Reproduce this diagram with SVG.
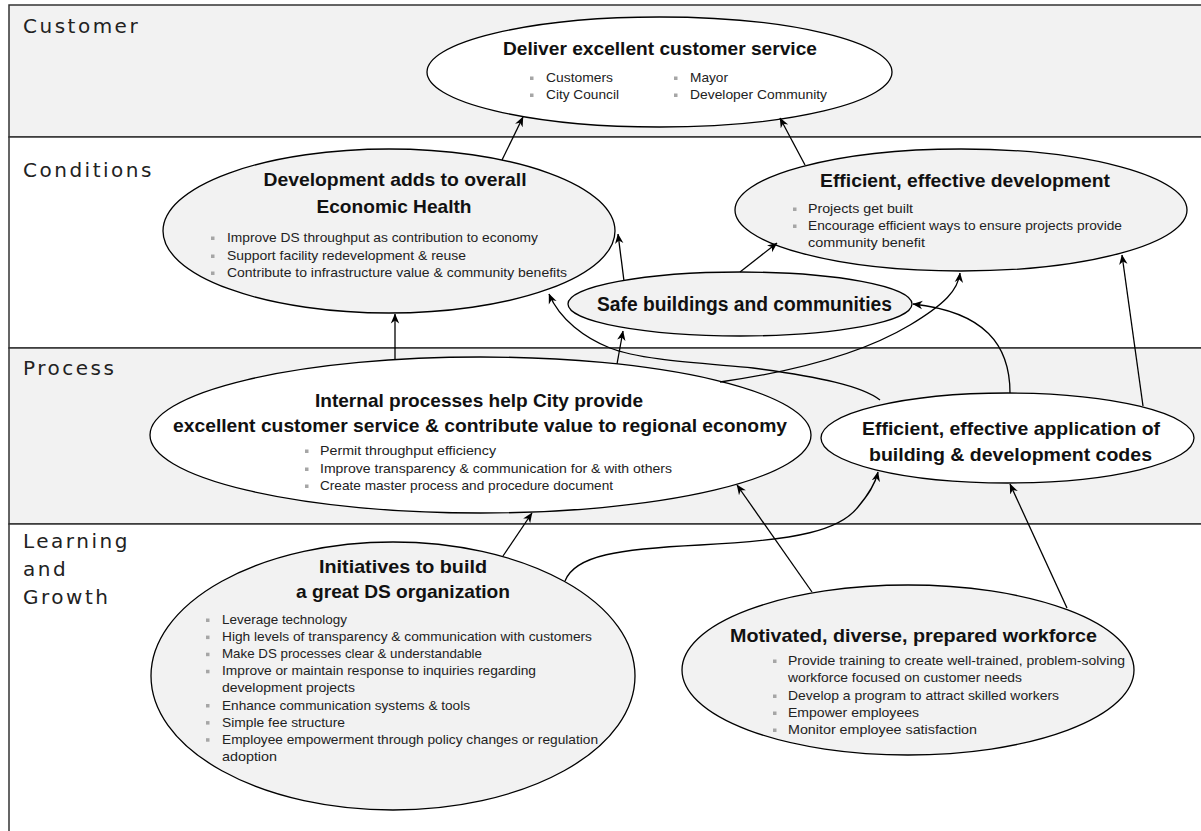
<svg xmlns="http://www.w3.org/2000/svg" width="1201" height="831" viewBox="0 0 1201 831">
<defs>
<style>
.band{stroke:#333;stroke-width:1.5}
.node{stroke:#000;stroke-width:1.3}
.g{fill:#f2f2f2}
.w{fill:#fff}
.t{font-family:"Liberation Sans",Arial,sans-serif;font-weight:bold;font-size:19px;fill:#111;text-anchor:middle}
.b{font-family:"Liberation Sans",Arial,sans-serif;font-size:13px;fill:#222}
.sq{fill:#a6a6a6}
.lbl{font-family:"DejaVu Sans",Verdana,sans-serif;font-size:20px;letter-spacing:2.5px;fill:#222}
.c{fill:none;stroke:#000;stroke-width:1.3;marker-end:url(#ah)}
</style>
<marker id="ah" viewBox="0 0 10 10" refX="9.5" refY="5" markerWidth="10" markerHeight="10" markerUnits="userSpaceOnUse" orient="auto">
<path d="M0,0.8 L10,5 L0,9.2 L3,5 z" fill="#000"/>
</marker>
</defs>

<g id="bands">
<rect class="band g" x="9" y="5" width="1200" height="132"/>
<rect class="band w" x="9" y="137" width="1200" height="211"/>
<rect class="band g" x="9" y="348" width="1200" height="176"/>
<rect class="band w" x="9" y="524" width="1200" height="312"/>
<text class="lbl" x="23" y="33">Customer</text>
<text class="lbl" x="23" y="177">Conditions</text>
<text class="lbl" x="23" y="375">Process</text>
<text class="lbl" x="23" y="548">Learning</text>
<text class="lbl" x="23" y="576">and</text>
<text class="lbl" x="23" y="604">Growth</text>
</g>

<g id="node-deliver">
<ellipse class="node w" cx="659.5" cy="72" rx="232.5" ry="55"/>
<text class="t" x="660" y="55" textLength="314" lengthAdjust="spacingAndGlyphs">Deliver excellent customer service</text>
<rect class="sq" x="530" y="76.5" width="3.5" height="3.5"/>
<text class="b" x="546" y="82" textLength="67" lengthAdjust="spacingAndGlyphs">Customers</text>
<rect class="sq" x="530" y="93.5" width="3.5" height="3.5"/>
<text class="b" x="546" y="99" textLength="73" lengthAdjust="spacingAndGlyphs">City Council</text>
<rect class="sq" x="674" y="76.5" width="3.5" height="3.5"/>
<text class="b" x="690" y="82" textLength="38" lengthAdjust="spacingAndGlyphs">Mayor</text>
<rect class="sq" x="674" y="93.5" width="3.5" height="3.5"/>
<text class="b" x="690" y="99" textLength="137" lengthAdjust="spacingAndGlyphs">Developer Community</text>
</g>

<g id="node-econ">
<ellipse class="node g" cx="389" cy="231" rx="226" ry="82"/>
<text class="t" x="395" y="186" textLength="263" lengthAdjust="spacingAndGlyphs">Development adds to overall</text>
<text class="t" x="394" y="213" textLength="155" lengthAdjust="spacingAndGlyphs">Economic Health</text>
<rect class="sq" x="211" y="236.5" width="3.5" height="3.5"/>
<text class="b" x="227" y="242" textLength="311" lengthAdjust="spacingAndGlyphs">Improve DS throughput as contribution to economy</text>
<rect class="sq" x="211" y="254.5" width="3.5" height="3.5"/>
<text class="b" x="227" y="260" textLength="239" lengthAdjust="spacingAndGlyphs">Support facility redevelopment &amp; reuse</text>
<rect class="sq" x="211" y="271.5" width="3.5" height="3.5"/>
<text class="b" x="227" y="277" textLength="340" lengthAdjust="spacingAndGlyphs">Contribute to infrastructure value &amp; community benefits</text>
</g>

<g id="node-effdev">
<ellipse class="node g" cx="961" cy="210" rx="226" ry="61"/>
<text class="t" x="965" y="187" textLength="290" lengthAdjust="spacingAndGlyphs">Efficient, effective development</text>
<rect class="sq" x="793" y="207.5" width="3.5" height="3.5"/>
<text class="b" x="808" y="213" textLength="105" lengthAdjust="spacingAndGlyphs">Projects get built</text>
<rect class="sq" x="793" y="224.5" width="3.5" height="3.5"/>
<text class="b" x="808" y="230" textLength="314" lengthAdjust="spacingAndGlyphs">Encourage efficient ways to ensure projects provide</text>
<text class="b" x="808" y="247" textLength="117" lengthAdjust="spacingAndGlyphs">community benefit</text>
</g>

<g id="node-safe">
<ellipse class="node g" cx="740" cy="304" rx="172" ry="32"/>
<text class="t" x="744.5" y="311" style="font-size:20px" textLength="295" lengthAdjust="spacingAndGlyphs">Safe buildings and communities</text>
</g>

<g id="node-internal">
<ellipse class="node w" cx="480.5" cy="435" rx="330.5" ry="78"/>
<text class="t" x="479" y="407" textLength="328" lengthAdjust="spacingAndGlyphs">Internal processes help City provide</text>
<text class="t" x="480" y="432" textLength="614" lengthAdjust="spacingAndGlyphs">excellent customer service &amp; contribute value to regional economy</text>
<rect class="sq" x="305" y="449.5" width="3.5" height="3.5"/>
<text class="b" x="320" y="455" textLength="176" lengthAdjust="spacingAndGlyphs">Permit throughput efficiency</text>
<rect class="sq" x="305" y="467.5" width="3.5" height="3.5"/>
<text class="b" x="320" y="473" textLength="352" lengthAdjust="spacingAndGlyphs">Improve transparency &amp; communication for &amp; with others</text>
<rect class="sq" x="305" y="484.5" width="3.5" height="3.5"/>
<text class="b" x="320" y="490" textLength="293" lengthAdjust="spacingAndGlyphs">Create master process and procedure document</text>
</g>

<g id="node-application">
<ellipse class="node w" cx="1007.5" cy="438" rx="186.5" ry="45"/>
<text class="t" x="1011" y="435" textLength="298" lengthAdjust="spacingAndGlyphs">Efficient, effective application of</text>
<text class="t" x="1010.5" y="461" textLength="283" lengthAdjust="spacingAndGlyphs">building &amp; development codes</text>
</g>

<g id="node-initiatives">
<ellipse class="node g" cx="393" cy="676" rx="242" ry="134"/>
<text class="t" x="403" y="573" textLength="168" lengthAdjust="spacingAndGlyphs">Initiatives to build</text>
<text class="t" x="403" y="598" textLength="214" lengthAdjust="spacingAndGlyphs">a great DS organization</text>
<rect class="sq" x="206" y="618.5" width="3.5" height="3.5"/>
<text class="b" x="222" y="624" textLength="125" lengthAdjust="spacingAndGlyphs">Leverage technology</text>
<rect class="sq" x="206" y="635.6" width="3.5" height="3.5"/>
<text class="b" x="222" y="641.1" textLength="370" lengthAdjust="spacingAndGlyphs">High levels of transparency &amp; communication with customers</text>
<rect class="sq" x="206" y="652.7" width="3.5" height="3.5"/>
<text class="b" x="222" y="658.2" textLength="260" lengthAdjust="spacingAndGlyphs">Make DS processes clear &amp; understandable</text>
<rect class="sq" x="206" y="669.8" width="3.5" height="3.5"/>
<text class="b" x="222" y="675.3" textLength="314" lengthAdjust="spacingAndGlyphs">Improve or maintain response to inquiries regarding</text>
<text class="b" x="222" y="692.4" textLength="133" lengthAdjust="spacingAndGlyphs">development projects</text>
<rect class="sq" x="206" y="704" width="3.5" height="3.5"/>
<text class="b" x="222" y="709.5" textLength="248" lengthAdjust="spacingAndGlyphs">Enhance communication systems &amp; tools</text>
<rect class="sq" x="206" y="721.1" width="3.5" height="3.5"/>
<text class="b" x="222" y="726.6" textLength="123" lengthAdjust="spacingAndGlyphs">Simple fee structure</text>
<rect class="sq" x="206" y="738.2" width="3.5" height="3.5"/>
<text class="b" x="222" y="743.7" textLength="376" lengthAdjust="spacingAndGlyphs">Employee empowerment through policy changes or regulation</text>
<text class="b" x="222" y="760.8" textLength="55" lengthAdjust="spacingAndGlyphs">adoption</text>
</g>

<g id="node-workforce">
<ellipse class="node g" cx="908" cy="670" rx="226" ry="85"/>
<text class="t" x="913.5" y="642" textLength="367" lengthAdjust="spacingAndGlyphs">Motivated, diverse, prepared workforce</text>
<rect class="sq" x="773" y="659.5" width="3.5" height="3.5"/>
<text class="b" x="788" y="665" textLength="337" lengthAdjust="spacingAndGlyphs">Provide training to create well-trained, problem-solving</text>
<text class="b" x="788" y="682" textLength="234" lengthAdjust="spacingAndGlyphs">workforce focused on customer needs</text>
<rect class="sq" x="773" y="694.5" width="3.5" height="3.5"/>
<text class="b" x="788" y="700" textLength="271" lengthAdjust="spacingAndGlyphs">Develop a program to attract skilled workers</text>
<rect class="sq" x="773" y="711.5" width="3.5" height="3.5"/>
<text class="b" x="788" y="717" textLength="131" lengthAdjust="spacingAndGlyphs">Empower employees</text>
<rect class="sq" x="773" y="728.5" width="3.5" height="3.5"/>
<text class="b" x="788" y="734" textLength="189" lengthAdjust="spacingAndGlyphs">Monitor employee satisfaction</text>
</g>

<g id="connectors">
<path class="c" d="M502,160 L523,117"/>
<path class="c" d="M805,165 L780,118"/>
<path class="c" d="M624,281 L618,234"/>
<path class="c" d="M740,272 L777,243"/>
<path class="c" d="M617,364 L623,331"/>
<path class="c" d="M395,359 L395,314"/>
<path class="c" d="M880,400 C862,386 820,377 753,368 C700,363 640,360 610,348 C585,338 560,320 549,294"/>
<path class="c" d="M720,382 C790,372 860,355 910,325 C945,304 958,290 960,273"/>
<path class="c" d="M1010,393 C1010,345 985,312 913,304"/>
<path class="c" d="M1143,406 L1122,255"/>
<path class="c" d="M503,556 L532,513"/>
<path class="c" d="M565,581 C575,555 620,549 700,545 C800,540 840,530 858,507 C868,495 875,485 878,472"/>
<path class="c" d="M812,592 L737,485"/>
<path class="c" d="M1067,608 L1010,484"/>
</g>
</svg>
